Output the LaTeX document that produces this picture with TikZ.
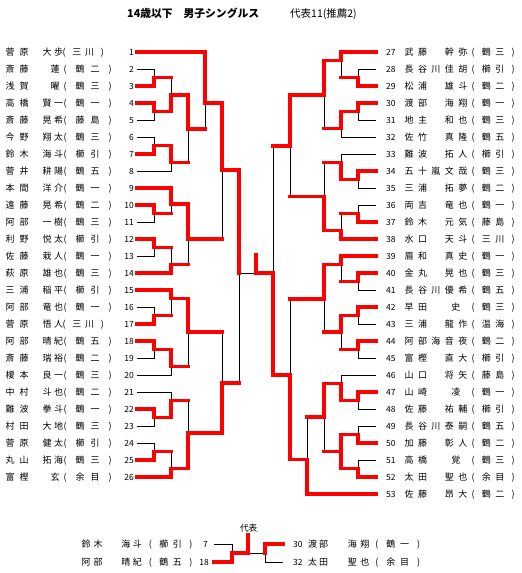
\documentclass[tikz,border=0pt]{standalone}
\usepackage{fontspec}
\setmainfont{Noto Sans CJK JP}
\definecolor{wred}{RGB}{255,0,0}
\newlength\cellw
\makeatletter
\def\spaced#1#2{\setlength\cellw{#1}\spaced@aux#2\relax}
\def\spaced@aux#1{\ifx\relax#1\else\makebox[\cellw]{#1}\expandafter\spaced@aux\fi}
\makeatother
\newcommand\namefont{\fontsize{9}{9}\selectfont}
\newcommand\numfont{\fontsize{8.5}{8.5}\selectfont}
\newcommand\Lrow[5][15]{%
  \pgfmathsetmacro\yy{52+17*(#2-1)+3.3}%
  \node[txt] (lf#2) at (3,\yy) {\spaced{14pt}{#3}};
  \node[txt] (lg#2) at (41.25,\yy) {\spaced{11.5pt}{#4}};
  \node[txt] (lc#2) at (57.5,\yy) {\spaced{#1pt}{(#5)}};
  \node[txt,anchor=base east] (ln#2) at (134,\yy) {\numfont #2};
}
\newcommand\LrowS[4]{%
  \pgfmathsetmacro\yy{52+17*(#1-1)+3.3}%
  \node[txt] (lf#1) at (3,\yy) {\spaced{14pt}{#2}};
  \node[txt,anchor=base] (lg#1) at (55,\yy) {#3};
  \node[txt] (lc#1) at (57.5,\yy) {\spaced{15pt}{(#4)}};
  \node[txt,anchor=base east] (ln#1) at (134,\yy) {\numfont #1};
}
\newcommand\Rrow[4]{%
  \pgfmathsetmacro\yy{52+17*(#1-27)+3.3}%
  \node[txt] (rn#1) at (386,\yy) {\numfont #1};
  \node[txt] (rf#1) at (402.3,\yy) {\spaced{13.4pt}{#2}};
  \node[txt] (rg#1) at (442.5,\yy) {\spaced{13.4pt}{#3}};
  \node[txt] (rc#1) at (466.3,\yy) {\spaced{13.3pt}{(#4)}};
}
\newcommand\RrowS[4]{%
  \pgfmathsetmacro\yy{52+17*(#1-27)+3.3}%
  \node[txt] (rn#1) at (386,\yy) {\numfont #1};
  \node[txt] (rf#1) at (402.3,\yy) {\spaced{13.4pt}{#2}};
  \node[txt,anchor=base] (rg#1) at (455.9,\yy) {#3};
  \node[txt] (rc#1) at (466.3,\yy) {\spaced{13.3pt}{(#4)}};
}
\begin{document}
\begin{tikzpicture}[x=1pt,y=-1pt,
  txt/.style={anchor=base west,inner sep=0pt,font=\namefont},
  blk/.style={draw=black,line width=0.9pt},
  win/.style={draw=wred,line width=3.6pt,line cap=rect,line join=miter}]
\useasboundingbox (0,0) rectangle (522,573);
\fill[white] (0,0) rectangle (522,573);
% title
\node[anchor=base west,inner sep=0pt,font=\fontsize{10.8}{10.8}\bfseries] (title) at (127,17.5) {14歳以下　男子シングルス};
\node[anchor=base west,inner sep=0pt,font=\fontsize{10.5}{10.5}\selectfont] (sub) at (290,17.5) {代表11(推薦2)};
% left names
\Lrow[12.8]{1}{菅原}{大歩}{三川}
\LrowS{2}{斎藤}{蓮}{鶴二}
\LrowS{3}{浅賀}{曜}{鶴三}
\Lrow{4}{高橋}{賢一}{鶴一}
\Lrow{5}{斎藤}{晃希}{藤島}
\Lrow{6}{今野}{翔太}{鶴三}
\Lrow{7}{鈴木}{海斗}{櫛引}
\Lrow{8}{菅井}{耕陽}{鶴五}
\Lrow{9}{本間}{洋介}{鶴一}
\Lrow{10}{遠藤}{晃希}{鶴二}
\Lrow{11}{阿部}{一樹}{鶴三}
\Lrow{12}{利野}{悦太}{櫛引}
\Lrow{13}{佐藤}{栽人}{鶴一}
\Lrow{14}{萩原}{雄也}{鶴三}
\Lrow{15}{三浦}{稲平}{櫛引}
\Lrow{16}{阿部}{竜也}{鶴一}
\Lrow[12.8]{17}{菅原}{悟人}{三川}
\Lrow{18}{阿部}{晴紀}{鶴五}
\Lrow{19}{斎藤}{瑞裕}{鶴二}
\Lrow{20}{榎本}{良一}{鶴三}
\Lrow{21}{中村}{斗也}{鶴二}
\Lrow{22}{難波}{拳斗}{鶴一}
\Lrow{23}{村田}{大地}{鶴三}
\Lrow{24}{菅原}{健太}{櫛引}
\Lrow{25}{丸山}{拓海}{鶴三}
\LrowS{26}{富樫}{玄}{余目}
% right names
\Rrow{27}{武藤}{幹弥}{鶴三}
\Rrow{28}{長谷川}{佳胡}{櫛引}
\Rrow{29}{松浦}{雄斗}{鶴二}
\Rrow{30}{渡部}{海翔}{鶴一}
\Rrow{31}{地主}{和也}{鶴三}
\Rrow{32}{佐竹}{真隆}{鶴五}
\Rrow{33}{難波}{拓人}{櫛引}
\Rrow{34}{五十嵐}{文哉}{鶴三}
\Rrow{35}{三浦}{拓夢}{鶴二}
\Rrow{36}{両吉}{竜也}{鶴一}
\Rrow{37}{鈴木}{元気}{藤島}
\Rrow{38}{水口}{天斗}{三川}
\Rrow{39}{眉和}{真史}{鶴一}
\Rrow{40}{金丸}{晃也}{鶴三}
\Rrow{41}{長谷川}{優希}{鶴五}
\RrowS{42}{早田}{史}{鶴三}
\Rrow{43}{三浦}{龍作}{温海}
\Rrow{44}{阿部海}{音夜}{鶴二}
\Rrow{45}{富樫}{直大}{櫛引}
\Rrow{46}{山口}{将矢}{藤島}
\RrowS{47}{山崎}{凌}{鶴一}
\Rrow{48}{佐藤}{祐輔}{櫛引}
\Rrow{49}{長谷川}{泰嗣}{鶴五}
\Rrow{50}{加藤}{彰人}{鶴二}
\RrowS{51}{高橋}{覚}{鶴三}
\Rrow{52}{太田}{聖也}{余目}
\Rrow{53}{佐藤}{昂大}{鶴二}
% black skeleton
\foreach \xu/\yt/\x/\yb/\xl in {
 137/69/154/86/137, 137/103/154/120/137, 154/77.5/171/111.5/154,
 137/137/154/154/137, 154/145.5/171/171/137, 171/95/188/162.5/171,
 137/52/205/129/188, 137/205/154/222/137, 137/188/171/213.5/154,
 137/239/154/256/137, 154/247.5/171/273/137, 171/204/188/264.5/171,
 205/103/222/239/188, 137/307/154/324/137, 137/290/171/315.5/154,
 137/341/154/358/137, 154/349.5/171/375/137, 171/298.5/188/366.5/171,
 137/409/154/426/137, 137/392/171/417.5/154, 137/443/154/460/137,
 154/451.5/171/477/137, 171/400.5/188/468.5/171, 188/332/222/433/188,
 222/170/239/383/222,
 376/69/358/86/376, 376/52/341/77.5/358, 376/103/358/120/376,
 358/111.5/341/137/376, 341/60.5/324/128.5/341, 376/171/358/188/376,
 376/154/341/179.5/358, 376/205/358/222/376, 358/213.5/341/239/376,
 341/162.5/324/230.5/341, 324/95/290/196.5/324, 376/273/358/290/376,
 376/256/341/281.5/358, 376/307/358/324/376, 376/341/358/358/376,
 358/315.5/341/349.5/358, 341/264.5/324/332/341, 376/392/358/409/376,
 376/375/341/400.5/358, 376/426/358/443/376, 376/460/358/477/376,
 358/434.5/341/468.5/358, 341/383.5/324/451.5/341, 324/417/307/494/376,
 324/299/290/459.5/307, 290/146/273/375/290}
 \draw[blk] (\xu,\yt) -- (\x,\yt) -- (\x,\yb) -- (\xl,\yb);
\coordinate (cl) at (239,273);
\coordinate (cr) at (273,273);
\coordinate (cc) at (256,273);
\coordinate (ctop) at (256,255);
\draw[blk] (cl) -- (cr);
% red paths left
\draw[win] (137,52) -| (205,103) -| (222,170) -| (239,273);
\draw[win] (137,86) -| (154,77.5) -- (171,77.5);
\draw[win] (137,103) -| (154,111.5) -| (171,95) -| (188,129) -- (205,129);
\draw[win] (137,154) -| (154,145.5) -| (171,162.5) -- (188,162.5);
\draw[win] (137,188) -| (171,204) -| (188,239) -- (222,239);
\draw[win] (137,205) -| (154,213.5) -- (171,213.5);
\draw[win] (137,239) -| (154,247.5) -- (171,247.5);
\draw[win] (137,273) -| (171,264.5) -- (188,264.5);
\draw[win] (137,290) -| (171,298.5) -| (188,332) -- (222,332);
\draw[win] (137,324) -| (154,315.5) -- (171,315.5);
\draw[win] (137,341) -| (154,349.5) -| (171,366.5) -- (188,366.5);
\draw[win] (137,409) -| (154,417.5) -| (171,400.5) -- (188,400.5);
\draw[win] (137,460) -| (154,451.5) -- (171,451.5);
\draw[win] (137,477) -| (171,468.5) -| (188,433) -| (222,383) -- (239,383);
% red paths right
\draw[win] (376,52) -| (341,60.5) -| (324,95) -| (290,146) -- (273,146);
\draw[win] (376,86) -| (358,77.5) -- (341,77.5);
\draw[win] (376,103) -| (358,111.5) -| (341,128.5) -- (324,128.5);
\draw[win] (376,171) -| (358,179.5) -| (341,162.5) -- (324,162.5);
\draw[win] (376,222) -| (358,213.5) -- (341,213.5);
\draw[win] (376,239) -| (341,230.5) -| (324,196.5) -- (290,196.5);
\draw[win] (376,256) -| (341,264.5) -| (324,299) -- (290,299);
\draw[win] (376,273) -| (358,281.5) -- (341,281.5);
\draw[win] (376,307) -| (358,315.5) -| (341,332) -- (324,332);
\draw[win] (376,341) -| (358,349.5) -- (341,349.5);
\draw[win] (376,392) -| (358,400.5) -| (341,383.5) -| (324,417) -- (307,417);
\draw[win] (376,443) -| (358,434.5) -- (341,434.5);
\draw[win] (341,434.5) -- (341,468.5);
\draw[win] (341,451.5) -- (324,451.5);
\draw[win] (376,477) -| (358,468.5) -- (341,468.5);
\draw[win] (376,494) -| (307,459.5) -| (290,375) -| (cr) -- (cc) -- (ctop);
% bottom playoff
\node[anchor=center,inner sep=0pt,font=\fontsize{8.7}{8.7}\selectfont] (dai) at (248.7,528) {代表};
\node[txt] (bf1) at (80,547.3) {\spaced{12pt}{鈴木}};
\node[txt] (bg1) at (120,547.3) {\spaced{11.5pt}{海斗}};
\node[txt] (bc1) at (143.5,547.3) {\spaced{13.5pt}{(櫛引)}};
\node[txt,anchor=base east] (bn1) at (208,547.3) {\numfont 7};
\node[txt] (bf2) at (80,565.3) {\spaced{12pt}{阿部}};
\node[txt] (bg2) at (120,565.3) {\spaced{11.5pt}{晴紀}};
\node[txt] (bc2) at (143.5,565.3) {\spaced{13.5pt}{(鶴五)}};
\node[txt,anchor=base east] (bn2) at (209,565.3) {\numfont 18};
\node[txt] (bn3) at (293,547.3) {\numfont 30};
\node[txt] (bf3) at (306.8,547.3) {\spaced{11pt}{渡部}};
\node[txt] (bg3) at (346,547.3) {\spaced{12.5pt}{海翔}};
\node[txt] (bc3) at (369.7,547.3) {\spaced{13.9pt}{(鶴一)}};
\node[txt] (bn4) at (293,565.3) {\numfont 32};
\node[txt] (bf4) at (306.8,565.3) {\spaced{11pt}{太田}};
\node[txt] (bg4) at (346,565.3) {\spaced{12.5pt}{聖也}};
\node[txt] (bc4) at (369.7,565.3) {\spaced{13.9pt}{(余目)}};
\coordinate (p7) at (214,544);
\coordinate (p18) at (214,562);
\coordinate (p30) at (283,544);
\coordinate (p32) at (283,562);
\coordinate (ptop) at (248,535);
\draw[blk] (p7) -| (232,562) -- (p18);
\draw[blk] (232,553) -- (265,553);
\draw[blk] (p30) -| (265,562) -- (p32);
\draw[win] (p18) -| (232,553) -| (ptop);
\draw[win] (p30) -| (265,553);
\end{tikzpicture}
\end{document}
